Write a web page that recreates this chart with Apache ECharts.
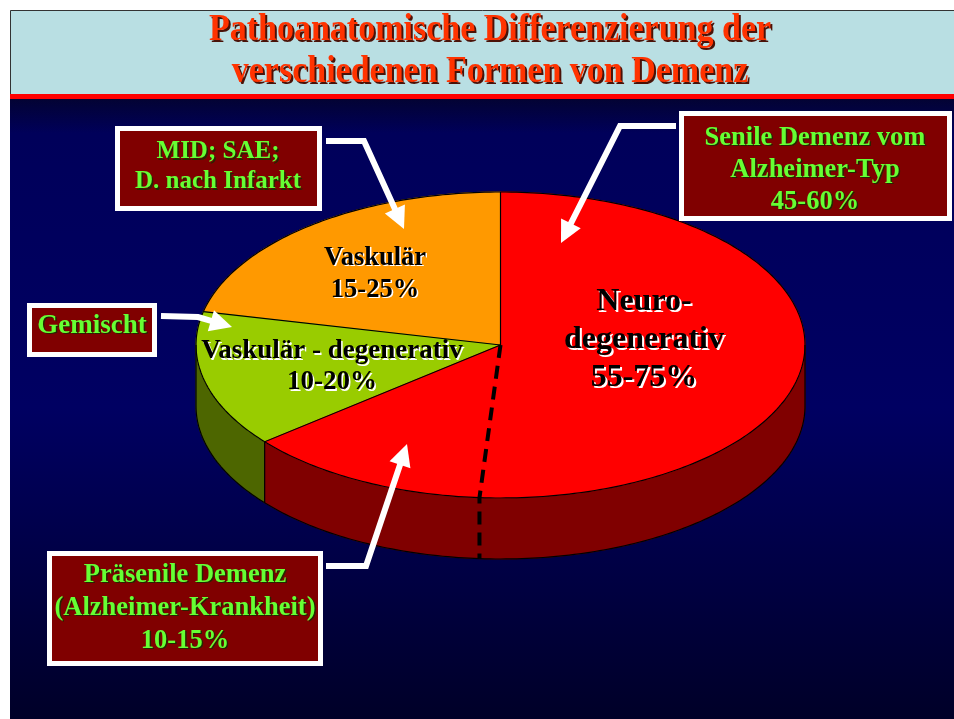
<!DOCTYPE html>
<html>
<head>
<meta charset="utf-8">
<script src="https://cdn.jsdelivr.net/npm/echarts@6/dist/echarts.min.js"></script>
<style>
  html, body { margin: 0; padding: 0; background: #fff; }
  #chart { width: 954px; height: 719px; }
</style>
</head>
<body>
<div id="chart"></div>
<script>
// slices, counterclockwise from 12 o'clock (shares)
const sliceNames = ['Vaskulär', 'Vaskulär - degenerativ', 'Präsenile Demenz', 'Senile Demenz vom Alzheimer-Typ'];
const sliceValues = [21.5, 14.4, 13.0, 51.1];

const titleText = 'Pathoanatomische Differenzierung der\nverschiedenen Formen von Demenz';
const pieLabels = ['Vaskulär\n15-25%', 'Vaskulär - degenerativ\n10-20%', 'Neuro-\ndegenerativ\n55-75%'];
const boxLabels = ['MID; SAE;\nD. nach Infarkt', 'Gemischt', 'Senile Demenz vom\nAlzheimer-Typ\n45-60%', 'Präsenile Demenz\n(Alzheimer-Krankheit)\n10-15%'];

const topColors = ['#ff9900', '#99cc00', '#ff0000', '#ff0000'];
const sideColors = ['#a36200', '#4d6600', '#800000', '#800000'];

// pie geometry (top ellipse + thickness)
const cx = 500.5, cy = 345, rx = 304.5, ry = 153, depth = 61;

const chart = echarts.init(document.getElementById('chart'));

function pt(deg, dy) {
  const r = deg * Math.PI / 180;
  return [cx + rx * Math.cos(r), cy - ry * Math.sin(r) + (dy || 0)];
}
function arc(s, e, dy) {
  const n = Math.max(2, Math.ceil(e - s));
  const out = [];
  for (let k = 0; k <= n; k++) out.push(pt(s + (e - s) * k / n, dy));
  return out;
}

function renderSlice(params, api) {
  const i = params.dataIndex;
  const total = sliceValues.reduce((a, b) => a + b, 0);
  let before = 0;
  for (let k = 0; k < i; k++) before += sliceValues[k];
  const a0 = 90 + before / total * 360;
  const a1 = a0 + api.value(0) / total * 360;
  const prev = (i + sliceValues.length - 1) % sliceValues.length;
  const sameAsPrev = topColors[prev] === topColors[i];
  const children = [];

  // visible side wall (front half 180..360)
  const ws = Math.max(a0, 180), we = Math.min(a1, 360);
  if (we > ws) {
    const top = arc(ws, we, 0);
    const bot = arc(ws, we, depth).reverse();
    children.push({
      type: 'polygon', shape: { points: top.concat(bot) },
      style: { fill: sideColors[i], stroke: sideColors[i], lineWidth: 1 }
    });
    children.push({
      type: 'polyline', shape: { points: arc(ws, we, depth) }, z2: 10,
      style: { stroke: '#000', lineWidth: 1.2, fill: null }
    });
    if (ws === 180) {
      children.push({ type: 'polyline', shape: { points: [pt(180), pt(180, depth)] }, z2: 10,
        style: { stroke: '#000', lineWidth: 1.2 } });
    }
    if (we === 360) {
      children.push({ type: 'polyline', shape: { points: [pt(360), pt(360, depth)] }, z2: 10,
        style: { stroke: '#000', lineWidth: 1.2 } });
    }
  }

  // top face
  children.push({
    type: 'polygon', shape: { points: [[cx, cy]].concat(arc(a0, a1, 0)) },
    style: { fill: topColors[i], stroke: topColors[i], lineWidth: 1 }
  });
  children.push({
    type: 'polyline', shape: { points: arc(a0, a1, 0) }, z2: 10,
    style: { stroke: '#000', lineWidth: 1.2, fill: null }
  });

  // boundary with the previous slice (dashed where both are red)
  const edge = [[cx, cy], pt(a0)];
  const inFront = (a0 % 360) > 180 && (a0 % 360) < 360;
  if (inFront) edge.push(pt(a0, depth));
  children.push({
    type: 'polyline', shape: { points: edge }, z2: 11,
    style: sameAsPrev
      ? { stroke: '#000', lineWidth: 4, lineDash: [13, 8], fill: null }
      : { stroke: '#000', lineWidth: 1.2, fill: null }
  });

  return { type: 'group', children: children };
}

function arrow(points) {
  const n = points.length;
  const tip = points[n - 1], from = points[n - 2];
  const dx = tip[0] - from[0], dy = tip[1] - from[1];
  const len = Math.sqrt(dx * dx + dy * dy);
  const ux = dx / len, uy = dy / len;
  const hl = 22, hw = 11;
  const base = [tip[0] - ux * hl, tip[1] - uy * hl];
  const line = points.slice(0, n - 1).concat([[base[0] + ux * 2, base[1] + uy * 2]]);
  return [
    { type: 'polyline', shape: { points: line }, style: { stroke: '#fff', lineWidth: 6, lineJoin: 'miter', fill: null }, z: 20 },
    { type: 'polygon', shape: { points: [tip, [base[0] - uy * hw, base[1] + ux * hw], [base[0] + uy * hw, base[1] - ux * hw]] },
      style: { fill: '#fff' }, z: 20 }
  ];
}

function box(x, y, w, h) {
  return { type: 'rect', shape: { x: x, y: y, width: w, height: h }, z: 20,
    style: { fill: '#800000', stroke: '#fff', lineWidth: 5 } };
}

// text with a hard drop shadow (shadow drawn as an offset copy)
function text(str, x, y, size, fill, lh, shadow, off, z, sy) {
  z = z || 21;
  const mk = (dx, color, zz) => ({
    type: 'text', x: x + dx, y: y + dx, z: zz, scaleY: sy || 1,
    style: {
      text: str, fill: color, align: 'center', verticalAlign: 'middle',
      font: 'bold ' + size + 'px "Liberation Serif", "Times New Roman", serif',
      lineHeight: lh
    }
  });
  return [mk(off, shadow, z), mk(0, fill, z + 1)];
}

const bgElements = [].concat([
  { type: 'rect', shape: { x: 10, y: 96, width: 944, height: 623 }, z: 0,
    style: { fill: new echarts.graphic.LinearGradient(0, 0, 0, 1, [
      { offset: 0, color: '#030330' },
      { offset: 0.06, color: '#00005a' },
      { offset: 0.5, color: '#000062' },
      { offset: 1, color: '#000028' }
    ]) } },
  { type: 'rect', shape: { x: 10, y: 10, width: 944, height: 86 }, z: 1,
    style: { fill: '#b9dfe3' } },
  { type: 'rect', shape: { x: 10, y: 94, width: 944, height: 5 }, z: 2, style: { fill: '#ff0000' } },
  { type: 'polyline', shape: { points: [[10.5, 94], [10.5, 10.5], [954, 10.5]] }, z: 2,
    style: { stroke: '#333', lineWidth: 1, fill: null } }
], text(titleText, 490, 51, 34, '#ff3300', 37, '#4a1208', 2, 3, 1.12));

const annotationElements = [].concat(
  arrow([[326, 141], [364, 141], [404, 229]]),
  arrow([[161, 316], [198, 317], [232, 327]]),
  arrow([[676, 126], [620, 126], [561, 243]]),
  arrow([[326, 566], [366, 566], [407, 444]]),
  [
    box(117.5, 128.5, 202, 80),
    box(29.5, 305.5, 125, 49),
    box(681.5, 113.5, 268, 105),
    box(49.5, 553.5, 271, 110)
  ],
  text(boxLabels[0], 218, 167, 25, '#66ff33', 30, '#262600', 1.5),
  text(boxLabels[1], 92, 326, 27, '#66ff33', 30, '#262600', 1.5),
  text(boxLabels[2], 815, 170, 26.5, '#66ff33', 32, '#262600', 1.5),
  text(boxLabels[3], 185, 608, 26.5, '#66ff33', 33, '#262600', 1.5),
  text(pieLabels[0], 375, 274, 26.5, '#000', 32, '#ffffff', 1.5),
  text(pieLabels[1], 332, 367, 27, '#000', 31, '#ffffff', 1.5),
  text(pieLabels[2], 644, 340, 32, '#000', 38, '#ffffff', 2)
);

chart.setOption({
  animation: false,
  graphic: { elements: bgElements.concat(annotationElements) },
  series: [{
    type: 'custom',
    coordinateSystem: 'none',
    z: 5,
    renderItem: renderSlice,
    data: sliceValues.map((v, i) => ({ name: sliceNames[i], value: v }))
  }]
});
</script>
</body>
</html>
